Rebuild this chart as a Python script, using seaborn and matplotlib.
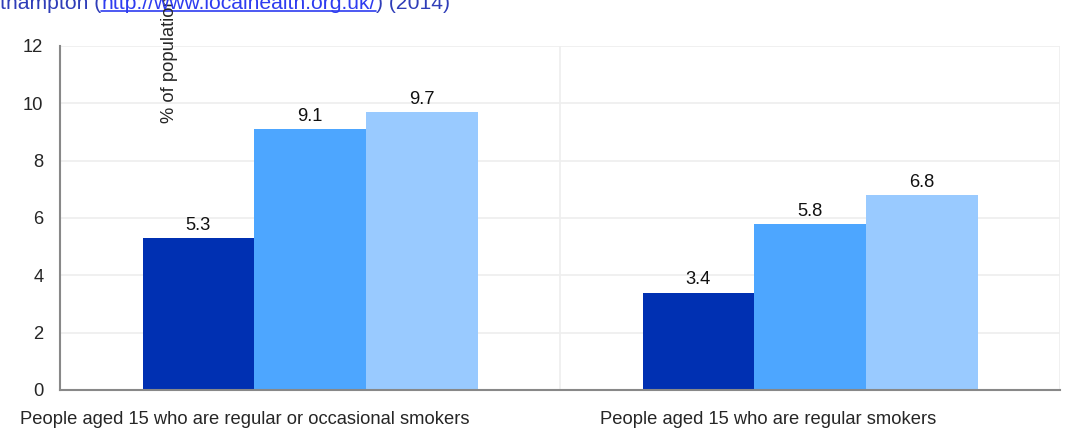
import seaborn as sns
import matplotlib
matplotlib.use("Agg")
import matplotlib.pyplot as plt
from matplotlib.ticker import FixedLocator
import pandas as pd

# data
categories = [
    "People aged 15 who are regular or occasional smokers",
    "People aged 15 who are regular smokers",
]
areas = ["Southampton", "South East", "England"]
southampton = [5.3, 3.4]
south_east = [9.1, 5.8]
england = [9.7, 6.8]
area_colours = ["#0030B2", "#4DA6FF", "#99CAFF"]
y_ticks = [0, 2, 4, 6, 8, 10, 12]

df = pd.DataFrame(
    {
        "category": categories * 3,
        "area": [a for a in areas for _ in categories],
        "value": southampton + south_east + england,
    }
)

sns.set_style("white")
plt.rcParams["font.family"] = ["Liberation Sans", "DejaVu Sans"]
FS = 13.2

fig = plt.figure(figsize=(10.7, 4.32), dpi=100)
ax = fig.add_axes([60 / 1070, 42 / 432, 1000 / 1070, 344 / 432])

sns.barplot(
    data=df,
    x="category",
    y="value",
    hue="area",
    hue_order=areas,
    palette=area_colours,
    width=0.67,
    gap=0,
    saturation=1,
    legend=False,
    linewidth=0,
    ax=ax,
)

# value labels above each bar
for container in ax.containers:
    ax.bar_label(container, fmt="%.1f", padding=3, fontsize=FS, color="#111111")

ax.set_xlim(-0.5, 1.5)
ax.set_ylim(0, 12)
ax.set_yticks(y_ticks)
ax.set_xlabel("")
ax.set_ylabel("")

# the category labels sit left of their bar groups in the original
ax.set_xticks([-0.13, 0.916])
ax.set_xticklabels(categories)

# category boundaries get the tick marks and the vertical grid line
ax.xaxis.set_minor_locator(FixedLocator([-0.5, 0.5, 1.5]))
ax.tick_params(axis="x", which="major", length=0, pad=15, labelsize=FS)
ax.tick_params(axis="x", which="minor", length=5, color="#888888", direction="out")
ax.tick_params(axis="y", length=5, color="#888888", direction="out", labelsize=FS, pad=7)
ax.grid(axis="y", color="#EEEEEE", linewidth=1.2)
ax.grid(axis="x", which="minor", color="#EEEEEE", linewidth=1.2)
ax.grid(axis="x", which="major", visible=False)
ax.set_axisbelow(True)

for side in ["top", "right"]:
    ax.spines[side].set_visible(False)
for side in ["left", "bottom"]:
    ax.spines[side].set_color("#888888")
    ax.spines[side].set_linewidth(1.5)

# y label sits inside the plot, cut off at the top like the original
fig.text(170 / 1070, 1 - 123 / 432, "% of population", rotation=90,
         ha="center", va="bottom", fontsize=FS)

# clipped source line at the very top
base_y = 1 - 9 / 432
src = fig.text(0, base_y, "thampton (", color="#2F3DB8", fontsize=15.2,
               va="baseline", ha="left")
fig.canvas.draw()
bb = src.get_window_extent()
link = fig.text(bb.x1 / 1070, base_y, "http://www.localhealth.org.uk/",
                color="#2E3CF0", fontsize=15.2, va="baseline", ha="left")
bb2 = link.get_window_extent()
fig.add_artist(plt.Line2D([bb.x1 / 1070, bb2.x1 / 1070],
                          [1 - 11 / 432, 1 - 11 / 432],
                          color="#2E3CF0", linewidth=1.2))
fig.text(bb2.x1 / 1070, base_y, ") (2014)", color="#2F3DB8", fontsize=15.2,
         va="baseline", ha="left")

plt.savefig("out.png", dpi=100)
plt.close()
